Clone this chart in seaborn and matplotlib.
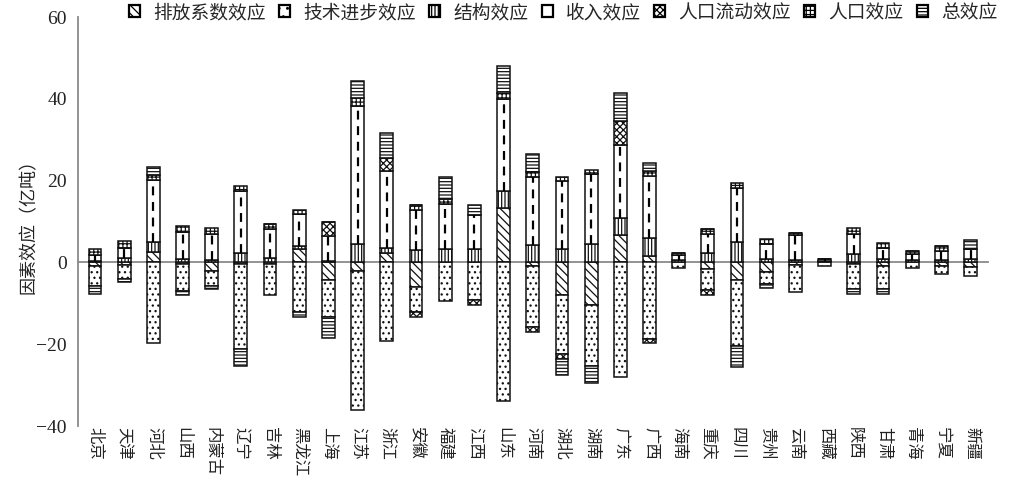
import numpy as np
import pandas as pd
import matplotlib
matplotlib.use('Agg')
import matplotlib.pyplot as plt
import seaborn as sns
from matplotlib.patches import Patch

provinces = ['北京', '天津', '河北', '山西', '内蒙古', '辽宁', '吉林', '黑龙江', '上海', '江苏',
             '浙江', '安徽', '福建', '江西', '山东', '河南', '湖北', '湖南', '广东', '广西',
             '海南', '重庆', '四川', '贵州', '云南', '西藏', '陕西', '甘肃', '青海', '宁夏', '新疆']

emission   = [-0.8, -0.6, 2.5, -0.5, -2.0, -0.3, -0.3, 3.3, -4.3, -2.0,
              2.4, -6.1, 0.0, 0.0, 13.4, -0.8, -8.0, -10.5, 6.8, 1.5,
              0.0, -1.6, -4.4, -2.3, -0.6, 0.0, -0.5, -0.8, 0.0, -0.8, -1.0]
technology = [-5.0, -3.4, -19.7, -6.6, -3.7, -20.8, -7.6, -12.2, -9.0, -34.0,
              -19.3, -6.1, -9.5, -9.3, -34.0, -15.0, -14.5, -14.8, -28.0, -18.7,
              -1.3, -5.2, -16.0, -2.9, -6.6, -0.8, -6.1, -5.6, -1.3, -2.1, -2.3]
structure  = [0.3, 1.0, 2.5, 0.8, 0.5, 2.2, 1.2, 0.8, 0.3, 4.5,
              1.2, 3.0, 3.2, 3.3, 4.1, 4.2, 3.2, 4.4, 4.1, 4.4,
              0.6, 2.4, 4.9, 0.8, 0.6, 0.4, 2.0, 0.8, 0.6, 0.6, 0.9]
income     = [1.4, 2.6, 15.2, 6.6, 6.5, 15.3, 6.9, 7.8, 6.2, 33.7,
              18.8, 9.8, 11.0, 8.3, 22.5, 16.6, 16.6, 17.1, 17.9, 15.2,
              1.1, 4.6, 13.3, 3.7, 6.0, 0.5, 5.0, 2.8, 1.4, 2.2, 2.4]
migration  = [0.0, 0.0, 0.0, 0.0, 0.0, 0.0, 0.0, 0.0, 3.4, 0.0,
              3.2, -1.2, 0.0, -1.0, 0.0, -1.2, -1.2, 0.0, 5.8, -0.9,
              0.0, -1.2, 0.0, 0.0, 0.0, 0.0, 0.0, 0.0, 0.0, 0.0, 0.0]
population = [1.5, 1.7, 1.2, 1.5, 1.4, 1.2, 1.3, 1.0, 0.0, 2.0,
              0.0, 1.2, 1.2, 0.0, 1.5, 1.2, 1.2, 1.2, 0.0, 1.2,
              0.6, 1.2, 1.2, 1.2, 0.6, 0.0, 1.5, 1.2, 0.8, 1.2, 0.0]
total      = [-2.0, -0.8, 2.0, -0.8, -0.8, -4.2, 0.0, -1.1, -5.3, 4.2,
              6.1, 0.0, 5.4, 2.4, 6.6, 4.4, -3.8, -4.2, 6.9, 2.0,
              0.0, 0.0, -5.1, -1.0, 0.0, 0.0, -1.2, -1.2, 0.0, 0.0, 2.2]

series_names = ['排放系数效应', '技术进步效应', '结构效应', '收入效应', '人口流动效应', '人口效应', '总效应']
series_values = [emission, technology, structure, income, migration, population, total]
hatches = ['\\\\\\\\', '...', '|||||', '', 'xxxxx', '++++', '-----']
legend_hatches = ['\\\\\\\\', '..', '|||||', '|', 'xxxxx', '++++', '-----']

sns.set_theme(style='white')
plt.rcParams['font.family'] = ['Liberation Serif', 'Noto Sans CJK SC']
plt.rcParams['hatch.linewidth'] = 0.9
plt.rcParams['axes.unicode_minus'] = True

fig = plt.figure(figsize=(10.24, 4.79), dpi=100)
ax = fig.add_axes([0.0762, 0.1106, 0.8887, 0.8539])

n = len(provinces)
pos = np.zeros(n)
neg = np.zeros(n)
for name, vals, h in zip(series_names, series_values, hatches):
    v = np.asarray(vals, dtype=float)
    bottom = np.where(v >= 0, pos, neg)
    df = pd.DataFrame({'省份': provinces, '值': v})
    sns.barplot(data=df, x='省份', y='值', order=provinces, ax=ax, bottom=bottom,
                width=0.44, color='white', facecolor='white', edgecolor='#111111',
                linewidth=1.1, hatch=h, errorbar=None, zorder=3)
    if name == '收入效应':
        ax.vlines(np.arange(n), bottom, bottom + v, colors='black',
                  linestyles=(0, (4, 3)), linewidth=1.6, zorder=4)
    pos += np.clip(v, 0, None)
    neg += np.clip(v, None, 0)

ax.set_ylim(-40, 60)
ax.set_xlim(-0.58, 30.6)
ax.set_yticks([-40, -20, 0, 20, 40, 60])
ax.spines['bottom'].set_position(('data', 0))
ax.spines[['top', 'right']].set_visible(False)
for s in ['left', 'bottom']:
    ax.spines[s].set_color('#8a8a8a')
    ax.spines[s].set_linewidth(1.3)
ax.set_xticks(np.arange(-0.5, n, 1.0))
ax.tick_params(axis='x', which='both', length=4, width=1.0, direction='out',
               color='#a0a0a0', labelbottom=False)
ax.tick_params(axis='y', length=5, width=1.0, direction='out', color='#8a8a8a',
               labelsize=14, pad=3, labelcolor='#222222')
ax.set_xlabel('')
ax.set_ylabel('因素效应（亿吨）', fontsize=13, labelpad=-1, color='#222222')

sec = ax.secondary_xaxis(0.0)
sec.set_xticks(np.arange(n), labels=provinces)
sec.tick_params(length=0, pad=1, labelsize=11.8, labelrotation=-90, labelcolor='#222222')
sec.spines['bottom'].set_visible(False)

handles = [Patch(facecolor='white', edgecolor='black', hatch=h, linewidth=1.6) for h in legend_hatches]
fig.legend(handles, series_names, loc='center', bbox_to_anchor=(0.550, 1 - 13 / 479), ncol=7,
           frameon=False, fontsize=13.5, handlelength=0.6, handleheight=0.6,
           handletextpad=0.7, columnspacing=0.7, borderaxespad=0, borderpad=0)

fig.savefig('out.png', dpi=100)
